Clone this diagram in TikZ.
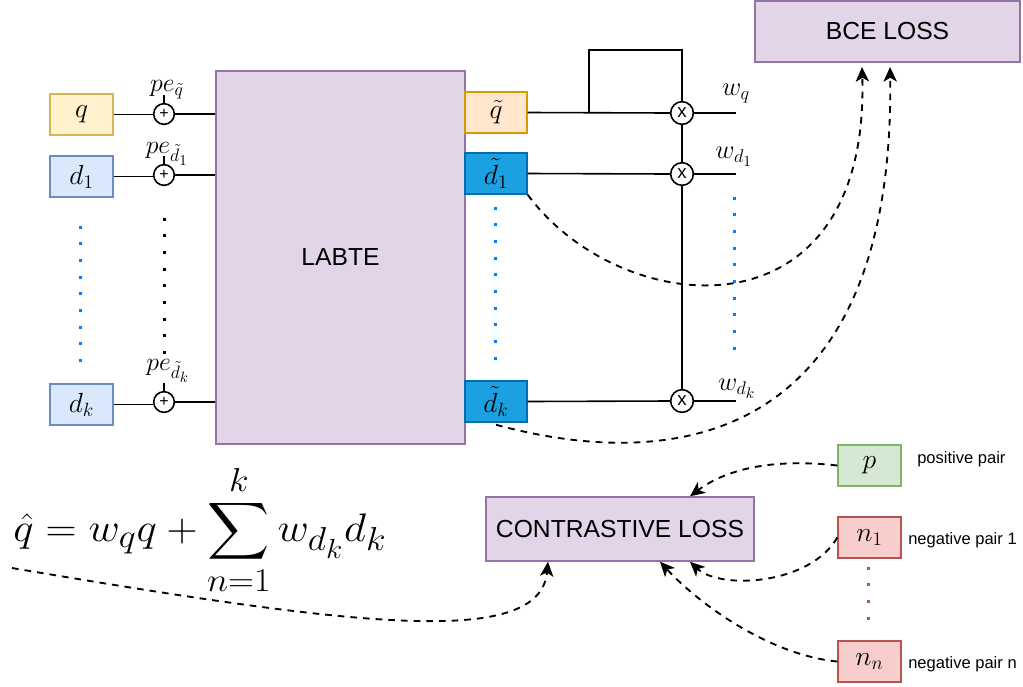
\documentclass[tikz,border=0pt]{standalone}
\usepackage{amsmath}
\usepackage{graphicx}
\usepackage{fontspec}
\setmainfont{Liberation Sans}
\usetikzlibrary{arrows.meta}
\definecolor{qfill}{HTML}{FFF2CC}\definecolor{qdraw}{HTML}{D6B656}
\definecolor{dfill}{HTML}{DAE8FC}\definecolor{ddraw}{HTML}{6C8EBF}
\definecolor{tqfill}{HTML}{FFE6CC}\definecolor{tqdraw}{HTML}{D79B00}
\definecolor{tdfill}{HTML}{1BA1E2}\definecolor{tddraw}{HTML}{006EAF}
\definecolor{pfill}{HTML}{E1D5E7}\definecolor{pdraw}{HTML}{9673A6}
\definecolor{gfill}{HTML}{D5E8D4}\definecolor{gdraw}{HTML}{82B366}
\definecolor{rfill}{HTML}{F8CECC}\definecolor{rdraw}{HTML}{B85450}
\definecolor{dotblue}{HTML}{007FFF}
\begin{document}
\begin{tikzpicture}[x=0.75pt,y=-0.75pt,
  inbox/.style={draw, line width=1.1pt, minimum width=47.25pt, minimum height=30.75pt, inner sep=0pt, font=\fontsize{20.74}{24}\selectfont},
  outbox/.style={draw, line width=1.1pt, minimum width=46.5pt, minimum height=30.75pt, inner sep=0pt, font=\fontsize{20.74}{24}\selectfont},
  purplebox/.style={draw=pdraw, fill=pfill, line width=1.1pt, inner sep=0pt, font=\fontsize{18.5}{22}\selectfont},
  plusnode/.style={draw, circle, line width=1.2pt, minimum size=15.5pt, inner sep=0pt, font=\fontsize{12}{12}\selectfont},
  mulnode/.style={draw, circle, line width=1.2pt, minimum size=17pt, inner sep=0pt, font=\fontsize{14}{14}\selectfont},
  wire/.style={line width=1.2pt},
  pelabel/.style={inner sep=0pt, font=\fontsize{17.28}{20}\selectfont},
  wlabel/.style={inner sep=0pt, font=\fontsize{17.28}{20}\selectfont},
  smalltext/.style={inner sep=0pt, font=\fontsize{12.4}{14}\selectfont},
  dots/.style={line width=2.25pt, dash pattern=on 2.25pt off 10.25pt},
  dasharrow/.style={line width=1.4pt, dash pattern=on 5pt off 4.5pt, -{Stealth[length=11pt,width=10pt,inset=3pt]}},
]
\useasboundingbox (0,0) rectangle (1023,686);

% inputs
\node[inbox, fill=qfill, draw=qdraw] (q) at (81.5,114.5) {$q$};
\node[inbox, fill=dfill, draw=ddraw] (d1) at (81.5,176.5) {$d_1$};
\node[inbox, fill=dfill, draw=ddraw] (dk) at (81.5,404.5) {$d_k$};

% LABTE
\node[purplebox, minimum width=186.75pt, minimum height=279.75pt] (labte) at (340.5,257.5) {LABTE};

% plus circles
\node[plusnode] (pq) at (164,114) {+};
\node[plusnode] (p1) at (164,175) {+};
\node[plusnode] (pk) at (164,402) {+};

\node[pelabel] (peq) at (167,90) {\scalebox{1.12}{$pe_{\tilde{q}}$}};
\node[pelabel] (pe1) at (167,154) {\scalebox{1.12}{$pe_{\tilde{d}_1}$}};
\node[pelabel] (pek) at (168,371) {\scalebox{1.12}{$pe_{\tilde{d}_k}$}};
\draw[wire] (pq.north) -- ++(0,-8);
\draw[wire] (p1.north) -- ++(0,-8);
\draw[wire] (pk.north) -- ++(0,-8);

\draw[wire] (q.east) -- (q.east -| pq.west);
\draw[wire] (pq.east) -- (pq.east -| labte.west);
\draw[wire] (d1.east) -- (d1.east -| p1.west);
\draw[wire] (p1.east) -- (p1.east -| labte.west);
\draw[wire] (dk.east) -- (dk.east -| pk.west);
\draw[wire] (pk.east) -- (pk.east -| labte.west);

% dotted columns
\draw[dots, dotblue] (80,225.7) -- (80,362);
\draw[dots, black] (164,217.7) -- (164,354);
\draw[dots, dotblue] (495,206.7) -- (495,359.7);
\draw[dots, dotblue] (734,196.7) -- (734,349.7);
\draw[dots, rdraw] (868,566.7) -- (868,620);

% outputs of LABTE
\node[outbox, fill=tqfill, draw=tqdraw] (tq) at (496,112.5) {$\tilde{q}$};
\node[outbox, fill=tdfill, draw=tddraw] (td1) at (496,173.5) {$\tilde{d}_1$};
\node[outbox, fill=tdfill, draw=tddraw] (tdk) at (496,401.5) {$\tilde{d}_k$};

% multiplication circles
\node[mulnode] (mq) at (682,113) {x};
\node[mulnode] (m1) at (682,174) {x};
\node[mulnode] (mk) at (682,401) {x};

\coordinate (loopa) at (589,113);
\coordinate (loopb) at (589,50);
\coordinate (loopc) at (682,50);
\draw[wire] (tq.east) -- (mq.west);
\draw[wire] (loopa) -- (loopb) -- (loopc) -- (mq.north);
\draw[wire] (mq.south) -- (m1.north);
\draw[wire] (m1.south) -- (mk.north);
\draw[wire] (td1.east) -- (m1.west);
\draw[wire] (tdk.east) -- (mk.west);

\coordinate (oq) at (736,113);
\coordinate (o1) at (736,174);
\coordinate (ok) at (736,401);
\draw[wire] (mq.east) -- (oq);
\draw[wire] (m1.east) -- (o1);
\draw[wire] (mk.east) -- (ok);
\node[wlabel] (wq) at (736,94) {\scalebox{1.15}{$w_q$}};
\node[wlabel] (w1) at (734,157) {\scalebox{1.15}{$w_{d_1}$}};
\node[wlabel] (wk) at (737,389) {\scalebox{1.15}{$w_{d_k}$}};

% losses
\node[purplebox, minimum width=198.75pt, minimum height=45.75pt] (bce) at (887.5,31.5) {BCE LOSS};
\node[purplebox, minimum width=201pt, minimum height=48pt] (cl) at (620,529) {CONTRASTIVE LOSS};

% pairs
\node[inbox, fill=gfill, draw=gdraw] (p) at (869.5,465.5) {$p$};
\node[inbox, fill=rfill, draw=rdraw] (n1) at (869.5,537.5) {$n_1$};
\node[inbox, fill=rfill, draw=rdraw] (nn) at (869.5,661.5) {$n_n$};
\node[smalltext, anchor=west] (tp) at (917,459) {positive pair};
\node[smalltext, anchor=west] (tn1) at (908,540) {negative pair 1};
\node[smalltext, anchor=west] (tnn) at (908,664) {negative pair n};

% formula
\node[inner sep=0pt] (eq) at (200,530) {\scalebox{1.3}[1.2]{\fontsize{24.88}{30}\selectfont$\displaystyle \hat{q} = w_q q + \sum_{n=1}^{k} w_{d_k} d_k$}};
\coordinate (eqs) at (12,568);

% dashed arrows
\coordinate (bcea) at (862,67);
\coordinate (bceb) at (890,67);
\draw[dasharrow] (td1.south east) .. controls (620,320) and (870,345) .. (bcea);
\draw[dasharrow] (tdk.south) ++(0,2) .. controls (700,480) and (895,420) .. (bceb);
\draw[dasharrow] (p.west) .. controls (770,458) and (725,470) .. (cl.north -| 690,0);
\draw[dasharrow] (n1.west) .. controls (810,585) and (720,590) .. (cl.south -| 690,0);
\draw[dasharrow] (nn.west) .. controls (770,655) and (700,605) .. (cl.south -| 660,0);
\draw[dasharrow] (eqs) .. controls (350,625) and (540,650) .. (cl.south -| 548,0);
\end{tikzpicture}
\end{document}
